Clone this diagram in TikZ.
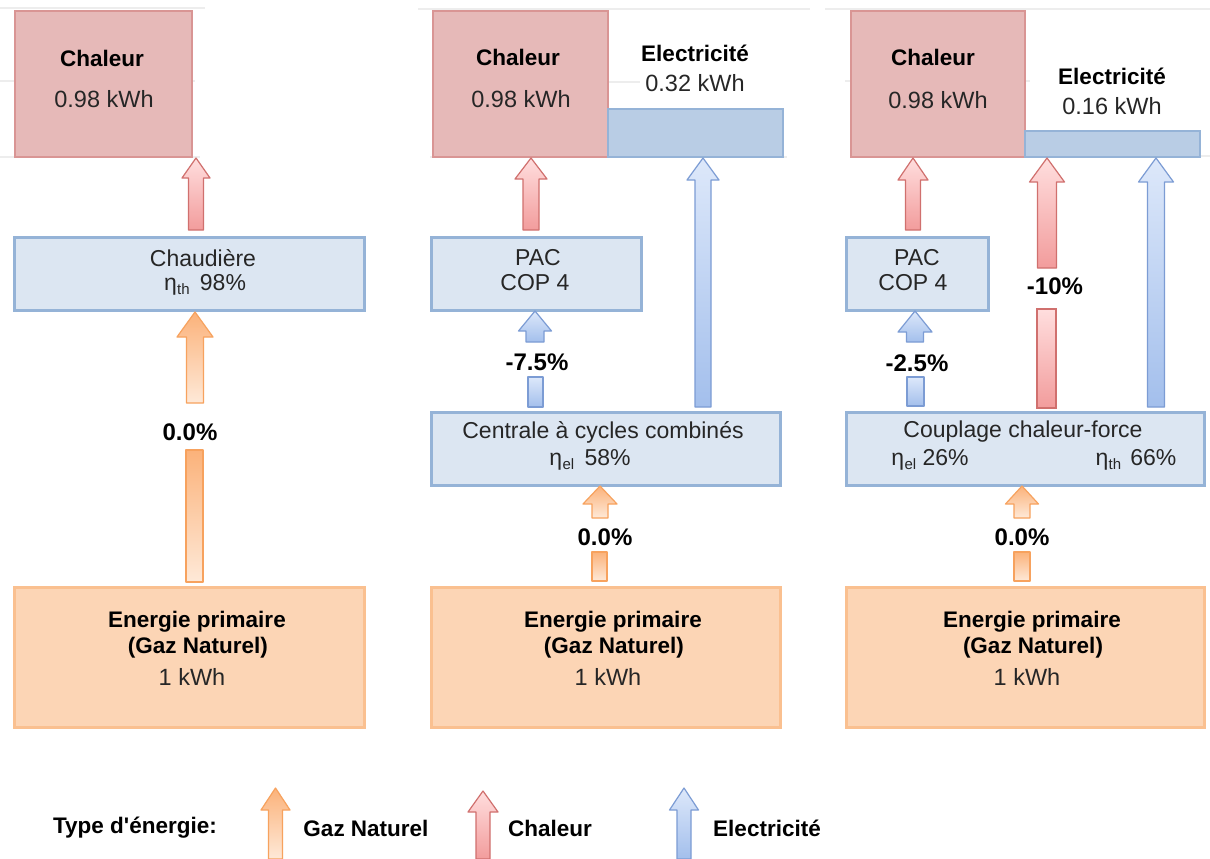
\documentclass[tikz,border=0pt]{standalone}
\usepackage{fontspec}
\setmainfont{Liberation Sans}
\definecolor{heatfill}{HTML}{E6B9B8}
\definecolor{heatline}{HTML}{D99594}
\definecolor{elecfill}{HTML}{B9CDE5}
\definecolor{elecline}{HTML}{95B3D7}
\definecolor{procfill}{HTML}{DCE6F2}
\definecolor{procline}{HTML}{95B3D7}
\definecolor{gasfill}{HTML}{FCD5B5}
\definecolor{gasline}{HTML}{FAC090}
\definecolor{redA}{HTML}{FFDEDE}
\definecolor{redB}{HTML}{F29C9C}
\definecolor{redL}{HTML}{D0706E}
\definecolor{orA}{HTML}{FBB27A}
\definecolor{orB}{HTML}{FEE9D8}
\definecolor{orL}{HTML}{F7A25E}
\definecolor{blA}{HTML}{DDE8FA}
\definecolor{blB}{HTML}{A3BFEC}
\definecolor{blL}{HTML}{7C9CD4}
\definecolor{gridc}{HTML}{EDEDED}
\definecolor{txt}{HTML}{262626}
\newcommand{\blockarrow}[7]{%
  \path[#1] ({#2-#5},#3) -- ({#2-#5},{#4+#7}) -- ({#2-#6},{#4+#7}) -- (#2,#4)
    -- ({#2+#6},{#4+#7}) -- ({#2+#5},{#4+#7}) -- ({#2+#5},#3) -- cycle;}
\newcommand{\flowbar}[5]{\path[#1] (#2,#3) rectangle (#4,#5);}
\newcommand{\etasub}[1]{η\kern0.3pt\raisebox{-3.5pt}{\fontsize{15}{15}\selectfont #1}}
\tikzset{
  box/.style={inner sep=0pt, outer sep=0pt, anchor=north west},
  heatbox/.style={box, fill=heatfill, draw=heatline, line width=1.5pt},
  elecbox/.style={box, fill=elecfill, draw=elecline, line width=1.5pt},
  procbox/.style={box, fill=procfill, draw=procline, line width=3pt},
  gasbox/.style={box, fill=gasfill, draw=gasline, line width=3pt},
  redarrow/.style={draw=redL, line width=1.2pt, top color=redA, bottom color=redB, line join=round},
  redbar/.style={draw=redL, line width=1.2pt, top color=redA, bottom color=redB},
  orarrow/.style={draw=orL, line width=1.2pt, top color=orA, bottom color=orB, line join=round},
  blarrow/.style={draw=blL, line width=1.2pt, top color=blA, bottom color=blB, line join=round},
  gridline/.style={draw=gridc, line width=1.5pt},
  title/.style={font=\fontsize{22.5}{27}\selectfont\bfseries, inner sep=0pt},
  val/.style={font=\fontsize{23.5}{28}\selectfont, text=txt, inner sep=0pt},
  reg/.style={font=\fontsize{23}{28}\selectfont, text=txt, inner sep=0pt},
  pct/.style={font=\fontsize{24}{28}\selectfont\bfseries, inner sep=0pt},
}
\begin{document}
\begin{tikzpicture}[x=1pt,y=-1pt]
\useasboundingbox[fill=white] (0,0) rectangle (1210,859);
% faint grid lines
\draw[gridline] (0,8) -- (205,8) (0,81) -- (195,81) (0,157) -- (200,157);
\draw[gridline] (418,9) -- (810,9) (605,82) -- (640,82) (430,157) -- (787,157);
\draw[gridline] (825,9) -- (1210,9) (845,81) -- (1030,81) (1195,156) -- (1210,156);
% ---------- boxes ----------
\node[heatbox, minimum width=177pt, minimum height=146pt] (chal1) at (15,11) {};
\node[heatbox, minimum width=175pt, minimum height=146pt] (chal2) at (433,11) {};
\node[elecbox, minimum width=175pt, minimum height=48pt] (elec2) at (608,109) {};
\node[heatbox, minimum width=174pt, minimum height=146pt] (chal3) at (851,11) {};
\node[elecbox, minimum width=175pt, minimum height=26pt] (elec3) at (1025,131) {};
\node[procbox, minimum width=350pt, minimum height=73pt] (chaud) at (14,237) {};
\node[procbox, minimum width=210pt, minimum height=73pt] (pac2) at (431,237) {};
\node[procbox, minimum width=142pt, minimum height=73pt] (pac3) at (846,237) {};
\node[procbox, minimum width=349pt, minimum height=73pt] (ccc) at (431,412) {};
\node[procbox, minimum width=358pt, minimum height=73pt] (chp) at (846,412) {};
\node[gasbox, minimum width=350pt, minimum height=140pt] (ep1) at (14,587) {};
\node[gasbox, minimum width=349pt, minimum height=140pt] (ep2) at (431,587) {};
\node[gasbox, minimum width=358pt, minimum height=140pt] (ep3) at (846,587) {};
% ---------- arrows panel 1 ----------
\blockarrow{redarrow}{196}{230}{158}{7.5}{14}{20}
\blockarrow{orarrow}{195}{403}{312}{8.5}{18}{25}
\flowbar{orarrow}{186}{450}{203}{582}
% ---------- arrows panel 2 ----------
\blockarrow{redarrow}{531}{230}{158}{8}{16}{21}
\blockarrow{blarrow}{703}{407}{158}{8}{16}{22}
\blockarrow{blarrow}{535}{342}{311}{9}{16.5}{20}
\flowbar{blarrow}{528}{377}{543}{407}
\blockarrow{orarrow}{600}{518}{486}{8}{17}{18}
\flowbar{orarrow}{592}{552}{607}{581}
% ---------- arrows panel 3 ----------
\blockarrow{redarrow}{913}{230}{158}{7.5}{15}{22}
\blockarrow{redarrow}{1047}{268}{158}{9.5}{17.5}{24}
\flowbar{redbar}{1037}{309}{1056}{408}
\blockarrow{blarrow}{1156}{407}{158}{8.5}{17.5}{24}
\blockarrow{blarrow}{915}{342}{311}{8.5}{17}{21}
\flowbar{blarrow}{907}{377}{924}{406}
\blockarrow{orarrow}{1022}{518}{486}{8}{16.5}{18}
\flowbar{orarrow}{1014}{552}{1030}{581}
% ---------- texts panel 1 ----------
\node[title] (t1a) at (102,58) {Chaleur};
\node[val] (t1b) at (104,99) {0.98 kWh};
\node[reg] (t1c) at (203,258) {Chaudière};
\node[reg] (t1d) at (205,285) {\etasub{th}\hspace{0.45em}98\%};
\node[pct] (t1e) at (190,432) {0.0\%};
\node[title] (t1f) at (197,622) {Energie primaire};
\node[title] (t1g) at (198,648) {(Gaz Naturel)};
\node[val] (t1h) at (192,677) {1 kWh};
% ---------- texts panel 2 ----------
\node[title] (t2a) at (518,57) {Chaleur};
\node[val] (t2b) at (521,99) {0.98 kWh};
\node[title] (t2c) at (695,53) {Electricité};
\node[val] (t2d) at (695,83) {0.32 kWh};
\node[reg] (t2e) at (538,258) {PAC};
\node[reg] (t2f) at (535,283) {COP 4};
\node[pct] (t2g) at (537,362) {-7.5\%};
\node[reg] (t2h) at (603,432) {Centrale à cycles combinés};
\node[reg] (t2i) at (590,460) {\etasub{el}\hspace{0.45em}58\%};
\node[pct] (t2j) at (605,537) {0.0\%};
\node[title] (t2k) at (613,622) {Energie primaire};
\node[title] (t2l) at (614,648) {(Gaz Naturel)};
\node[val] (t2m) at (608,677) {1 kWh};
% ---------- texts panel 3 ----------
\node[title] (t3a) at (933,57) {Chaleur};
\node[val] (t3b) at (938,100) {0.98 kWh};
\node[title] (t3c) at (1112,76) {Electricité};
\node[val] (t3d) at (1112,106) {0.16 kWh};
\node[reg] (t3e) at (917,258) {PAC};
\node[reg] (t3f) at (913,283) {COP 4};
\node[pct] (t3g) at (917,363) {-2.5\%};
\node[pct] (t3h) at (1055,286) {-10\%};
\node[reg] (t3i) at (1023,432) {Couplage chaleur-force};
\node[reg] (t3j) at (930,460) {\etasub{el} 26\%};
\node[reg] (t3k) at (1136,460) {\etasub{th}\hspace{0.4em}66\%};
\node[pct] (t3l) at (1022,537) {0.0\%};
\node[title] (t3m) at (1032,622) {Energie primaire};
\node[title] (t3n) at (1033,648) {(Gaz Naturel)};
\node[val] (t3o) at (1027,677) {1 kWh};
% ---------- legend ----------
\node[title] (lg0) at (135,828) {Type d\textquotesingle énergie:};
\blockarrow{orarrow}{275.5}{859}{788}{7}{14.5}{22}
\node[title] (lg1) at (366,828) {Gaz Naturel};
\blockarrow{redarrow}{483}{859}{791}{7}{15}{21}
\node[title] (lg2) at (550,828) {Chaleur};
\blockarrow{blarrow}{684}{859}{788}{7}{14.5}{22}
\node[title] (lg3) at (767,828) {Electricité};
\end{tikzpicture}
\end{document}
